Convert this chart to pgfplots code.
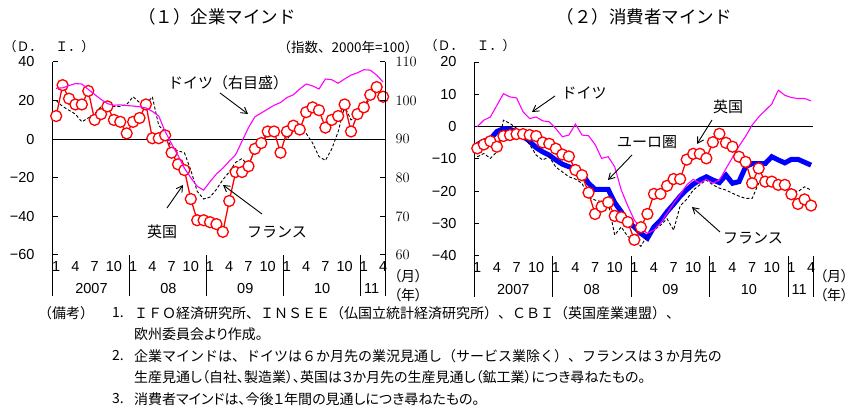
\documentclass[border=0pt]{standalone}
\usepackage{fontspec}
\setmainfont{Liberation Sans}
\newfontfamily\jp{Noto Sans CJK JP}
\newfontfamily\jpp{Noto Sans CJK JP}[RawFeature=+palt]
\usepackage{pgfplots}
\usepackage{pgfplotstable}
\pgfplotsset{compat=1.18}
\usetikzlibrary{arrows.meta}
\definecolor{ukred}{RGB}{255,0,0}
\definecolor{demag}{RGB}{255,0,255}
\definecolor{euroblue}{RGB}{0,0,255}

% business sentiment: UK (CBI), France (INSEE), Germany (Ifo, right axis)
\pgfplotstableread{
m uk fr de
0 12 20 103.2
1 28 17 103.3
2 21 15 103.9
3 18 13 104.4
4 18 9 104.3
5 25 11 102.9
6 10 13 101.6
7 13 17 100.3
8 17 17 99.2
9 10 17 98.8
10 9 17 98.9
11 3 18 98.7
12 9 22 98.6
13 11 19 98.4
14 18 18 98.1
15 0.5 22 97.2
16 0.5 7 96
17 2 4 92
18 -7 -5 88.8
19 -13 -6 85.8
20 -16 -7 82.5
21 -31 -16 80
22 -42 -27 77.8
23 -42 -31 76.8
24 -43 -30 79
25 -44 -26 81
26 -48 -21 82.5
27 -32 -17 84.3
28 -17 -12 86
29 -17 -10 89.5
30 -14 -14 93
31 -5 -5 95.8
32 -2 -2 96.8
33 4 2 97.8
34 4 3 98.8
35 -7 4 99.5
36 4 0 100.8
37 7 4 101.5
38 5 6 103
39 14 3 104.3
40 16.5 -2 103.8
41 15 -9 103
42 6 -11 105.6
43 10 -5 105.4
44 12 4 104.5
45 18 17 105.6
46 4 10 106.6
47 13 12 107.2
48 16.5 17 108
49 23 21 107.9
50 27 25 106.6
51 22 20 104.8
}\busdata

% consumer sentiment: UK, France, Germany, euro area
\pgfplotstableread{
m uk fr de eu
0 -6.7 -9.3 0 -5.5
1 -5.5 -8.3 2 -4.5
2 -4.5 -9.8 3 -3.8
3 -6.2 -7.8 6.6 -1.5
4 -2.9 2 10.2 -0.6
5 -2.6 1 9.2 -0.8
6 -2.3 -0.5 8.9 -1.6
7 -2.3 -3 4.6 -3
8 -2.6 -5.5 2.5 -4.5
9 -2.9 -8.8 3 -6.5
10 -4.9 -10.3 1.8 -7.8
11 -5.3 -9.3 1.5 -8.8
12 -6.8 -12.5 -0.6 -10.3
13 -8.6 -14 -3.1 -11.6
14 -9.2 -15.5 -2.6 -12.4
15 -13.4 -16.2 0.8 -12.9
16 -15 -17.5 -2.6 -14.5
17 -20.4 -21.7 -2.8 -17.5
18 -27 -22.7 -5.5 -19.4
19 -24.7 -23.2 -9.8 -19.4
20 -23.4 -23.5 -9.3 -19.4
21 -27.6 -33.5 -12.4 -23.5
22 -28 -31 -19.6 -26.3
23 -29.5 -34 -24.5 -29.5
24 -35 -35 -28.9 -31
25 -31.1 -37 -31.5 -33
26 -27 -33.5 -33 -34.5
27 -20.8 -32 -32 -31
28 -20.8 -30.5 -29.9 -29
29 -18.3 -28.5 -26.8 -26.3
30 -16.2 -32 -23.7 -24
31 -16.2 -24.5 -21 -21.5
32 -10.2 -22.5 -18 -19.5
33 -8.4 -19.6 -16.3 -17.8
34 -8.4 -18 -17.5 -16.5
35 -9.8 -16.5 -16.3 -15.5
36 -4.8 -18 -17.5 -16.5
37 -2.2 -19 -16.5 -17.3
38 -5 -19.6 -13 -15
39 -6.2 -20.6 -9.5 -17.5
40 -9.3 -21.5 -6 -17
41 -10.9 -22.2 -3 -12.4
42 -17.5 -22.2 0.5 -11.4
43 -12.9 -17.5 3 -11.4
44 -17 -17.5 5 -11.4
45 -17 -17 7 -9.3
46 -18 -17.5 11.3 -10.3
47 -18 -18.6 9.7 -11.2
48 -20.9 -19.5 9 -10.1
49 -23.9 -20.1 8.7 -10.1
50 -22.5 -18.6 8.7 -11
51 -24.4 -19.6 8 -11.9
}\condata

\pgfplotsset{
  panel/.style={
    scale only axis,
    clip=false,
    xmin=-0.5, xmax=51.3,
    axis x line*=bottom,
    x axis line style={draw=none},
    xtick={0,3,6,9,12,15,18,21,24,27,30,33,36,39,42,45,48,51},
    xticklabels={1,4,7,10,1,4,7,10,1,4,7,10,1,4,7,10,1,4},
    xtick style={draw=none},
    xticklabel style={font=\fontsize{14.5}{15}\selectfont, yshift=-3pt},
    yticklabel style={font=\fontsize{14.5}{15}\selectfont},
    tick align=inside,
    major tick length=5pt,
    ytick style={black, line width=1pt},
    axis line style={black, line width=1pt},
  },
  ukstyle/.style={ukred, line width=1.3pt, mark=*, mark size=5.5pt,
    mark options={fill=white, draw=ukred, line width=1.3pt}},
  frstyle/.style={black, line width=0.9pt, dash pattern=on 3pt off 2pt},
  destyle/.style={demag, line width=1.1pt},
}
\newcommand{\yr}{\fontsize{14.5}{15}\selectfont}

\begin{document}
\begin{tikzpicture}
\path[use as bounding box] (0pt,0pt) rectangle (857pt,414pt);

% ---------- (1) business sentiment ----------
\begin{axis}[panel, anchor=south west, at={(53pt,159pt)}, width=332pt, height=193pt,
  ymin=-60, ymax=40, ytick={-60,-40,-20,0,20,40},
  yticklabel={−60,−40,−20,0,20,40},
  yticklabels={−60,−40,−20,0,20,40},
  axis y line*=left,
  yticklabel style={xshift=-15pt}]
  \draw[line width=1pt] (axis cs:-0.5,0) -- (axis cs:51.3,0);
  \addplot[frstyle] table[x=m, y=fr]{\busdata};
  \addplot[ukstyle] table[x=m, y=uk]{\busdata};
  \pgfplotsinvokeforeach{-0.5,11.5,23.5,35.5,47.5,51.3}{
    \draw[line width=1pt] (axis cs:#1,-60) -- ++(0pt,-41pt);
  }
  \node[font=\yr] at (axis cs:5.5,-60) [yshift=-34pt] {2007};
  \node[font=\yr] at (axis cs:17.5,-60) [yshift=-34pt] {08};
  \node[font=\yr] at (axis cs:29.5,-60) [yshift=-34pt] {09};
  \node[font=\yr] at (axis cs:41.5,-60) [yshift=-34pt] {10};
  \node[font=\yr] at (axis cs:49.2,-60) [yshift=-34pt] {11};
\end{axis}
\begin{axis}[panel, anchor=south west, at={(53pt,159pt)}, width=332pt, height=193pt,
  ymin=60, ymax=110, ytick={60,70,80,90,100,110},
  axis y line*=right, axis x line=none,
  yticklabel style={xshift=7pt}]
  \addplot[destyle] table[x=m, y=de]{\busdata};
\end{axis}

% ---------- (2) consumer sentiment ----------
\begin{axis}[panel, anchor=south west, at={(474pt,158pt)}, width=339pt, height=194pt,
  ymin=-40, ymax=20, ytick={-40,-30,-20,-10,0,10,20},
  yticklabels={−40,−30,−20,−10,0,10,20},
  axis y line*=left,
  yticklabel style={xshift=-14pt}]
  \draw[line width=1pt] (axis cs:-0.5,0) -- (axis cs:51.3,0);
  \addplot[euroblue, line width=5pt] table[x=m, y=eu]{\condata};
  \addplot[frstyle] table[x=m, y=fr]{\condata};
  \addplot[destyle] table[x=m, y=de]{\condata};
  \addplot[ukstyle] table[x=m, y=uk]{\condata};
  \pgfplotsinvokeforeach{-0.5,11.5,23.5,35.5,47.5,51.3}{
    \draw[line width=1pt] (axis cs:#1,-40) -- ++(0pt,-41pt);
  }
  \node[font=\yr] at (axis cs:5.5,-40) [yshift=-34pt] {2007};
  \node[font=\yr] at (axis cs:17.5,-40) [yshift=-34pt] {08};
  \node[font=\yr] at (axis cs:29.5,-40) [yshift=-34pt] {09};
  \node[font=\yr] at (axis cs:41.5,-40) [yshift=-34pt] {10};
  \node[font=\yr] at (axis cs:49.2,-40) [yshift=-34pt] {11};
\end{axis}

% ---------- titles and axis captions ----------
\node[font=\jp\fontsize{17.5}{20}\selectfont] at (217pt,397pt) {（１）企業マインド};
\node[font=\jp\fontsize{17.5}{20}\selectfont] at (644pt,397pt) {（２）消費者マインド};
\node[font=\jp\fontsize{13}{15}\selectfont] at (49pt,367pt) {（Ｄ．　Ｉ．）};
\node[font=\jp\fontsize{13}{15}\selectfont] at (470pt,368pt) {（Ｄ．　Ｉ．）};
\node[font=\jp\fontsize{13.5}{16}\selectfont] at (348pt,367pt) {（指数、2000年=100）};
\node[font=\jpp\fontsize{14}{16}\selectfont] at (408pt,138pt) {（月）};
\node[font=\jpp\fontsize{14}{16}\selectfont] at (408pt,119pt) {（年）};
\node[font=\jpp\fontsize{14}{16}\selectfont] at (834pt,138pt) {（月）};
\node[font=\jpp\fontsize{14}{16}\selectfont] at (834pt,119pt) {（年）};

% ---------- annotations ----------
\tikzset{ann/.style={font=\jp\fontsize{15}{17}\selectfont},
         arr/.style={line width=0.9pt, -{Straight Barb[length=6pt,width=7pt]}}}
\node[ann] at (228pt,331pt) {ドイツ（右目盛）};
\draw[arr] (220pt,321pt) -- (248pt,300pt);
\node[ann] at (162pt,182pt) {英国};
\draw[arr] (167pt,206pt) -- (183pt,229pt);
\node[ann] at (277pt,182pt) {フランス};
\draw[arr] (262pt,200pt) -- (223pt,229pt);

\node[ann] at (584pt,321pt) {ドイツ};
\draw[arr] (555pt,318pt) -- (532pt,302pt);
\node[ann] at (728pt,307pt) {英国};
\draw[arr] (712pt,294pt) -- (697pt,270pt);
\node[ann] at (647pt,272pt) {ユーロ圏};
\draw[arr] (632pt,259pt) -- (608pt,234pt);
\node[ann] at (753pt,176pt) {フランス};
\draw[arr] (720pt,182pt) -- (692pt,207pt);

% ---------- notes ----------
\tikzset{note/.style={font=\jpp\fontsize{14}{16}\selectfont, anchor=west, inner sep=0pt},
         notef/.style={font=\jp\fontsize{14}{16}\selectfont, anchor=west, inner sep=0pt}}
\node[notef] at (38pt,101pt) {（備考）};
\node[note] at (112pt,101pt) {1.};
\node[notef] at (134pt,101pt) {ＩＦＯ経済研究所、ＩＮＳＥＥ（仏国立統計経済研究所）、ＣＢＩ（英国産業連盟）、};
\node[note] at (134pt,80pt) {欧州委員会より作成。};
\node[note] at (112pt,58pt) {2.};
\node[notef] at (134pt,58pt) {企業マインドは、ドイツは６か月先の業況見通し（サービス業除く）、フランスは３か月先の};
\node[note] at (134pt,37pt) {生産見通し（自社、製造業）、英国は３か月先の生産見通し（鉱工業）につき尋ねたもの。};
\node[note] at (112pt,15pt) {3.};
\node[note] at (134pt,15pt) {消費者マインドは、今後１年間の見通しにつき尋ねたもの。};
\end{tikzpicture}
\end{document}
